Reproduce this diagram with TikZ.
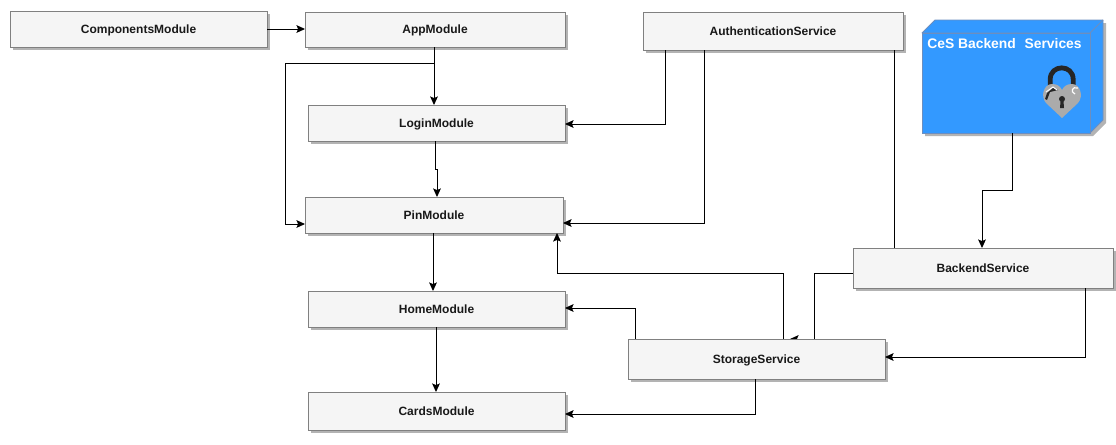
\documentclass[tikz,border=0pt]{standalone}
\usepackage{fontspec}
\setmainfont{Liberation Sans}
\usetikzlibrary{arrows.meta,shadows,backgrounds}
\definecolor{boxfill}{HTML}{F5F5F5}
\definecolor{boxline}{HTML}{808080}
\definecolor{shadowgray}{HTML}{B3B3B3}
\definecolor{cesblue}{HTML}{3399FF}
\definecolor{cesline}{HTML}{6C8EBF}
\definecolor{lockgray}{HTML}{ABABAB}
\tikzset{
  modbox/.style 2 args={draw=boxline,fill=boxfill,line width=0.75pt,inner sep=0pt,outer sep=0pt,
    minimum width=#1*0.75pt,minimum height=#2*0.75pt,
    text height=6.5pt,text depth=0pt,
    font=\fontsize{9}{11}\selectfont\bfseries,text=black!90,
    general shadow={shadow xshift=2.2pt,shadow yshift=-2.2pt,fill=shadowgray}},
  conn/.style={draw=black,line width=0.75pt,-{Stealth[length=6.4pt,width=5.8pt,inset=1.2pt]}},
  plain/.style={draw=black,line width=0.75pt},
  cesface/.style={fill=cesblue,draw=cesline,line width=0.6pt,line join=round}
}
\begin{document}
\begin{tikzpicture}[x=0.75pt,y=-0.75pt]
\useasboundingbox (0,0) rectangle (1116,444);
% vertical routes
\coordinate (xA) at (434,0);
\coordinate (xL) at (285,0);
\coordinate (xB) at (435,169);
\coordinate (xC) at (437,169);
\coordinate (xP) at (433,0);
\coordinate (xH) at (436,0);
\coordinate (xD) at (665,124);
\coordinate (xE) at (704,223);
\coordinate (xF) at (894,0);
\coordinate (xG) at (1012,190);
\coordinate (xI) at (982,190);
\coordinate (xJ) at (814,273);
\coordinate (xK) at (790,339);
\coordinate (xM) at (783,273);
\coordinate (xN) at (557,273);
\coordinate (xO) at (635,308);
\coordinate (xQ) at (755,414);
\coordinate (xR) at (1085,357);
\coordinate (yApp) at (0,63);
\coordinate (yPinL) at (0,224);
% cube
\fill[shadowgray] (925,36) -- (938,23) -- (1106,23) -- (1106,123) -- (1093,136) -- (925,136) -- cycle;
\draw[cesface] (922,33) -- (935,20) -- (1103,20) -- (1103,120) -- (1090,133) -- (1090,33) -- cycle;
\draw[cesface] (1090,33) -- (1103,20);
\node[fill=cesblue,draw=cesline,line width=0.6pt,inner sep=0pt,outer sep=0pt,minimum width=168*0.75pt,minimum height=100*0.75pt] (ces) at (1006,83) {};
\node[anchor=west,inner sep=0pt,text=white,font=\fontsize{10.4}{12}\selectfont\bfseries] (cestitle) at (927,44) {CeS Backend\hspace{0.35em} Services};
% lock icon
\draw[black!85,line width=3.6pt] (1050.2,88) -- (1050.2,79.5) .. controls (1050.2,64) and (1073.2,64) .. (1073.2,79.5) -- (1073.2,88);
\fill[lockgray] (1062,118) -- (1046,103) .. controls (1040,96) and (1044,84) .. (1052,84) .. controls (1057,84) and (1060,86) .. (1062,90) .. controls (1064,86) and (1067,84) .. (1072,84) .. controls (1080,84) and (1084,96) .. (1078,103) -- cycle;
\fill[black!85] (1053,88) -- (1047,93) -- (1045,99) -- (1047,100) -- (1050,92) -- (1058,90) -- cycle;
\draw[white,line width=0.7pt] (1046,92) -- (1053,87) -- (1057,90);
\draw[white,line width=0.9pt] (1078,88) .. controls (1072,86) and (1070,92) .. (1075,94);
\fill[black!85] (1062,99) circle[radius=3];
\fill[black!85] (1060.6,100) -- (1063.4,100) -- (1064,108) -- (1060,108) -- cycle;
% modules
\node[modbox={257}{36}] (comp) at (138.5,29) {ComponentsModule};
\node[modbox={260}{35}] (app) at (435,29.5) {AppModule};
\node[modbox={260}{38}] (auth) at (773,31) {AuthenticationService};
\node[modbox={257}{36}] (login) at (436.5,123) {LoginModule};
\node[modbox={258}{36}] (pin) at (434,215) {PinModule};
\node[modbox={257}{36}] (home) at (436.5,309) {HomeModule};
\node[modbox={257}{38}] (cards) at (436.5,411) {CardsModule};
\node[modbox={257}{40}] (storage) at (756.5,359) {StorageService};
\node[modbox={260}{40}] (backend) at (983,268) {BackendService};
% connectors
\draw[conn] (comp.east) -- (comp.east -| app.west);
\draw[conn] (xA |- app.south) -- (xA |- login.north);
\draw[conn] (xA |- yApp) -- (xL |- yApp) -- (xL |- yPinL) -- (pin.west |- yPinL);
\draw[conn] (xB |- login.south) -- (xB) -- (xC) -- (xC |- pin.north);
\draw[conn] (xP |- pin.south) -- (xP |- home.north);
\draw[conn] (xH |- home.south) -- (xH |- cards.north);
\draw[conn] (xD |- auth.south) -- (xD) -- (login.east |- xD);
\draw[conn] (xE |- auth.south) -- (xE) -- (pin.east |- xE);
\draw[plain] (xF |- auth.south) -- (xF |- backend.north);
\draw[conn] (xG |- ces.south) -- (xG) -- (xI) -- (xI |- backend.north);
\begin{scope}[on background layer]
\draw[conn] (backend.west |- xJ) -- (xJ) -- (xJ |- xK) -- (xK);
\end{scope}
\draw[conn] (xM |- storage.north) -- (xM) -- (xN) -- (xN |- pin.south);
\draw[conn] (xO |- storage.north) -- (xO) -- (home.east |- xO);
\draw[conn] (xQ |- storage.south) -- (xQ) -- (cards.east |- xQ);
\draw[conn] (xR |- backend.south) -- (xR) -- (storage.east |- xR);
\end{tikzpicture}
\end{document}
